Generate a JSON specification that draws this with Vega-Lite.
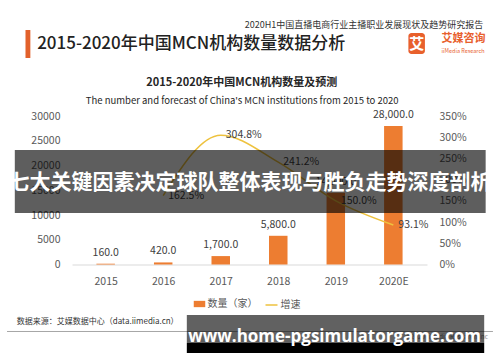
{
  "$schema": "https://vega.github.io/schema/vega-lite/v6.json",
  "width": 355,
  "height": 148.5,
  "autosize": {"type": "none"},
  "padding": {"left": 72, "top": 116, "right": 73, "bottom": 97.5},
  "background": "white",
  "config": {
    "view": {"stroke": null},
    "font": "Noto Sans CJK SC",
    "text": {"font": "Noto Sans CJK SC"}
  },
  "data": {"values": [
    {"year": 2015, "count": 160, "growth": null},
    {"year": 2016, "count": 420, "growth": 1.625},
    {"year": 2017, "count": 1700, "growth": 3.048},
    {"year": 2018, "count": 5800, "growth": 2.412},
    {"year": 2019, "count": 14500, "growth": 1.5},
    {"year": 2020, "count": 28000, "growth": 0.931}
  ]},
  "resolve": {"scale": {"y": "independent"}, "axis": {"x": "independent", "y": "independent"}},
  "layer": [
    {
      "mark": {"type": "bar", "width": 18.5, "color": "#ED7D31"},
      "encoding": {
        "x": {"field": "year", "type": "quantitative",
          "scale": {"domain": [2014.5017, 2020.4983], "nice": false, "zero": false},
          "axis": {"orient": "bottom", "values": [2015, 2016, 2017, 2018, 2019, 2020], "title": null,
            "labelExpr": "datum.value == 2020 ? '2020E' : format(datum.value, 'd')",
            "grid": false, "ticks": false, "domain": true, "domainColor": "#D9D9D9",
            "labelPadding": 12, "labelFontSize": 10.5, "labelColor": "#595959", "labelFlush": false, "labelFont": "Noto Sans CJK SC"}},
        "y": {"field": "count", "type": "quantitative",
          "scale": {"domain": [0, 30000], "nice": false, "zero": false},
          "axis": {"orient": "left", "values": [0, 5000, 10000, 15000, 20000, 25000, 30000], "format": "d", "title": null,
            "grid": false, "ticks": false, "domain": false,
            "labelPadding": 12, "labelFontSize": 10.5, "labelColor": "#595959", "labelFont": "Noto Sans CJK SC"}},
        "color": {"datum": "数量（家）", "type": "nominal", "scale": {"range": ["#ED7D31"]},
          "legend": {"orient": "none", "legendX": 121.5, "legendY": 182, "title": null, "padding": 0,
            "symbolType": "M-1,-0.55H1V0.55H-1Z", "symbolSize": 132, "symbolStrokeWidth": 0,
            "labelFontSize": 10, "labelColor": "#595959", "labelOffset": 2, "labelFont": "Noto Sans CJK SC"}}
      }
    },
    {
      "mark": {"type": "text", "dy": -11, "baseline": "middle", "fontSize": 10.5, "color": "#404040"},
      "encoding": {
        "x": {"field": "year", "type": "quantitative", "scale": {"domain": [2014.5017, 2020.4983], "nice": false, "zero": false}, "axis": null},
        "y": {"field": "count", "type": "quantitative", "scale": {"domain": [0, 30000], "nice": false, "zero": false}, "axis": null},
        "text": {"field": "count", "type": "quantitative", "format": ",.1f"}
      }
    },
    {
      "transform": [{"filter": "datum.growth != null"}],
      "mark": {"type": "line", "interpolate": "monotone", "strokeWidth": 1.5},
      "encoding": {
        "x": {"field": "year", "type": "quantitative", "scale": {"domain": [2014.5017, 2020.4983], "nice": false, "zero": false}, "axis": null},
        "y": {"field": "growth", "type": "quantitative",
          "scale": {"domain": [0, 3.5], "nice": false, "zero": false},
          "axis": {"orient": "right", "values": [0, 0.5, 1, 1.5, 2, 2.5, 3, 3.5], "format": ".0%", "title": null,
            "grid": false, "ticks": false, "domain": false,
            "labelPadding": 12, "labelFontSize": 10.5, "labelColor": "#595959", "labelFont": "Noto Sans CJK SC"}},
        "stroke": {"datum": "增速", "type": "nominal", "scale": {"range": ["#EEC23E"]},
          "legend": {"orient": "none", "legendX": 192.5, "legendY": 182, "title": null, "padding": 0,
            "symbolType": "stroke", "symbolSize": 144, "symbolStrokeWidth": 1.5,
            "labelFontSize": 10, "labelColor": "#595959", "labelOffset": 2, "labelFont": "Noto Sans CJK SC"}}
      }
    },
    {
      "transform": [{"filter": "datum.growth != null"}],
      "mark": {"type": "text", "align": "left", "dx": 5, "baseline": "middle", "fontSize": 10.5, "color": "#404040"},
      "encoding": {
        "x": {"field": "year", "type": "quantitative", "scale": {"domain": [2014.5017, 2020.4983], "nice": false, "zero": false}, "axis": null},
        "y": {"field": "growth", "type": "quantitative", "scale": {"domain": [0, 3.5], "nice": false, "zero": false}, "axis": null},
        "text": {"field": "growth", "type": "quantitative", "format": ".1%"}
      }
    },
    {
      "data": {"values": [{"k": "accent"}]},
      "mark": {"type": "rect", "color": "#E2612B"},
      "encoding": {
        "x": {"datum": 2013.6064, "type": "quantitative", "scale": {"domain": [2014.5017, 2020.4983], "nice": false, "zero": false}, "axis": null},
        "x2": {"datum": 2013.6909},
        "y": {"datum": 47374, "type": "quantitative", "scale": {"domain": [0, 30000], "nice": false, "zero": false}, "axis": null},
        "y2": {"datum": 41717}
      }
    },
    {
      "data": {"values": [{"t": "2015-2020年中国MCN机构数量数据分析"}]},
      "mark": {"type": "text", "align": "left", "baseline": "middle", "fontSize": 17, "fontWeight": 500, "color": "#222222"},
      "encoding": {
        "x": {"datum": 2013.8091, "type": "quantitative", "scale": {"domain": [2014.5017, 2020.4983], "nice": false, "zero": false}, "axis": null},
        "y": {"datum": 44545, "type": "quantitative", "scale": {"domain": [0, 30000], "nice": false, "zero": false}, "axis": null},
        "text": {"field": "t"}
      }
    },
    {
      "data": {"values": [{"t": "2020H1中国直播电商行业主播职业发展现状及趋势研究报告"}]},
      "mark": {"type": "text", "align": "right", "baseline": "middle", "fontSize": 9, "color": "#333333"},
      "encoding": {
        "x": {"datum": 2021.5628, "type": "quantitative", "scale": {"domain": [2014.5017, 2020.4983], "nice": false, "zero": false}, "axis": null},
        "y": {"datum": 48384, "type": "quantitative", "scale": {"domain": [0, 30000], "nice": false, "zero": false}, "axis": null},
        "text": {"field": "t"}
      }
    },
    {
      "data": {"values": [{"k": "logo"}]},
      "mark": {"type": "rect", "color": "#E8602C", "cornerRadius": 3},
      "encoding": {
        "x": {"datum": 2020.2618, "type": "quantitative", "scale": {"domain": [2014.5017, 2020.4983], "nice": false, "zero": false}, "axis": null},
        "x2": {"datum": 2020.549},
        "y": {"datum": 46768, "type": "quantitative", "scale": {"domain": [0, 30000], "nice": false, "zero": false}, "axis": null},
        "y2": {"datum": 42525}
      }
    },
    {
      "data": {"values": [{"t": "艾"}]},
      "mark": {"type": "text", "align": "center", "baseline": "middle", "fontSize": 15, "fontWeight": "bold", "color": "white"},
      "encoding": {
        "x": {"datum": 2020.4054, "type": "quantitative", "scale": {"domain": [2014.5017, 2020.4983], "nice": false, "zero": false}, "axis": null},
        "y": {"datum": 44646, "type": "quantitative", "scale": {"domain": [0, 30000], "nice": false, "zero": false}, "axis": null},
        "text": {"field": "t"}
      }
    },
    {
      "data": {"values": [{"t": "艾媒咨询"}]},
      "mark": {"type": "text", "align": "left", "baseline": "middle", "fontSize": 11, "fontWeight": "bold", "color": "#E8602C"},
      "encoding": {
        "x": {"datum": 2020.8361, "type": "quantitative", "scale": {"domain": [2014.5017, 2020.4983], "nice": false, "zero": false}, "axis": null},
        "y": {"datum": 45556, "type": "quantitative", "scale": {"domain": [0, 30000], "nice": false, "zero": false}, "axis": null},
        "text": {"field": "t"}
      }
    },
    {
      "data": {"values": [{"t": "iiMedia Research"}]},
      "mark": {"type": "text", "align": "left", "baseline": "middle", "fontSize": 5.5, "color": "#E8602C"},
      "encoding": {
        "x": {"datum": 2020.8361, "type": "quantitative", "scale": {"domain": [2014.5017, 2020.4983], "nice": false, "zero": false}, "axis": null},
        "y": {"datum": 43232, "type": "quantitative", "scale": {"domain": [0, 30000], "nice": false, "zero": false}, "axis": null},
        "text": {"field": "t"}
      }
    },
    {
      "data": {"values": [{"t": "2015-2020年中国MCN机构数量及预测"}]},
      "mark": {"type": "text", "align": "center", "baseline": "middle", "fontSize": 11, "fontWeight": "bold", "color": "#262626"},
      "encoding": {
        "x": {"datum": 2017.3649, "type": "quantitative", "scale": {"domain": [2014.5017, 2020.4983], "nice": false, "zero": false}, "axis": null},
        "y": {"datum": 36667, "type": "quantitative", "scale": {"domain": [0, 30000], "nice": false, "zero": false}, "axis": null},
        "text": {"field": "t"}
      }
    },
    {
      "data": {"values": [{"t": "The number and forecast of China's MCN institutions from 2015 to 2020"}]},
      "mark": {"type": "text", "align": "center", "baseline": "middle", "fontSize": 9.5, "color": "#262626"},
      "encoding": {
        "x": {"datum": 2017.3733, "type": "quantitative", "scale": {"domain": [2014.5017, 2020.4983], "nice": false, "zero": false}, "axis": null},
        "y": {"datum": 33030, "type": "quantitative", "scale": {"domain": [0, 30000], "nice": false, "zero": false}, "axis": null},
        "text": {"field": "t"}
      }
    },
    {
      "data": {"values": [{"t": "数据来源：艾媒数据中心（data.iimedia.cn）"}]},
      "mark": {"type": "text", "align": "left", "baseline": "middle", "fontSize": 8, "color": "#333333"},
      "encoding": {
        "x": {"datum": 2013.4544, "type": "quantitative", "scale": {"domain": [2014.5017, 2020.4983], "nice": false, "zero": false}, "axis": null},
        "y": {"datum": -11556, "type": "quantitative", "scale": {"domain": [0, 30000], "nice": false, "zero": false}, "axis": null},
        "text": {"field": "t"}
      }
    },
    {
      "data": {"values": [{"k": "footer line"}]},
      "mark": {"type": "rule", "color": "#A6A6A6", "strokeWidth": 1},
      "encoding": {
        "x": {"datum": 2013.2855, "type": "quantitative", "scale": {"domain": [2014.5017, 2020.4983], "nice": false, "zero": false}, "axis": null},
        "x2": {"datum": 2021.7314},
        "y": {"datum": -13535, "type": "quantitative", "scale": {"domain": [0, 30000], "nice": false, "zero": false}, "axis": null}
      }
    },
    {
      "data": {"values": [{"t": "©2020 iiMedia Research Inc"}]},
      "mark": {"type": "text", "align": "right", "baseline": "middle", "fontSize": 6.5, "color": "#8C8C8C"},
      "encoding": {
        "x": {"datum": 2021.647, "type": "quantitative", "scale": {"domain": [2014.5017, 2020.4983], "nice": false, "zero": false}, "axis": null},
        "y": {"datum": -14646, "type": "quantitative", "scale": {"domain": [0, 30000], "nice": false, "zero": false}, "axis": null},
        "text": {"field": "t"}
      }
    },
    {
      "data": {"values": [{"k": "banner"}]},
      "mark": {"type": "rect", "color": "#000000", "opacity": 0.63},
      "encoding": {
        "x": {"datum": 2013.4206, "type": "quantitative", "scale": {"domain": [2014.5017, 2020.4983], "nice": false, "zero": false}, "axis": null},
        "x2": {"datum": 2021.6047},
        "y": {"datum": 23131, "type": "quantitative", "scale": {"domain": [0, 30000], "nice": false, "zero": false}, "axis": null},
        "y2": {"datum": 10404}
      }
    },
    {
      "data": {"values": [{"t": "七大关键因素决定球队整体表现与胜负走势深度剖析"}]},
      "mark": {"type": "text", "align": "center", "baseline": "middle", "fontSize": 21, "fontWeight": "bold", "color": "white"},
      "encoding": {
        "x": {"datum": 2017.5084, "type": "quantitative", "scale": {"domain": [2014.5017, 2020.4983], "nice": false, "zero": false}, "axis": null},
        "y": {"datum": 16404, "type": "quantitative", "scale": {"domain": [0, 30000], "nice": false, "zero": false}, "axis": null},
        "text": {"field": "t"}
      }
    },
    {
      "data": {"values": [{"k": "watermark box"}]},
      "mark": {"type": "rect", "color": "#000000", "opacity": 0.62},
      "encoding": {
        "x": {"datum": 2016.4105, "type": "quantitative", "scale": {"domain": [2014.5017, 2020.4983], "nice": false, "zero": false}, "axis": null},
        "x2": {"datum": 2021.5794},
        "y": {"datum": -10202, "type": "quantitative", "scale": {"domain": [0, 30000], "nice": false, "zero": false}, "axis": null},
        "y2": {"datum": -15859}
      }
    },
    {
      "data": {"values": [{"k": "watermark strip"}]},
      "mark": {"type": "rect", "color": "#000000"},
      "encoding": {
        "x": {"datum": 2016.4105, "type": "quantitative", "scale": {"domain": [2014.5017, 2020.4983], "nice": false, "zero": false}, "axis": null},
        "x2": {"datum": 2021.5794},
        "y": {"datum": -15859, "type": "quantitative", "scale": {"domain": [0, 30000], "nice": false, "zero": false}, "axis": null},
        "y2": {"datum": -17879}
      }
    },
    {
      "data": {"values": [{"t": "www.home-pgsimulatorgame.com"}]},
      "mark": {"type": "text", "align": "center", "baseline": "middle", "fontSize": 17, "fontWeight": "bold", "color": "white", "font": "Open Sans"},
      "encoding": {
        "x": {"datum": 2018.978, "type": "quantitative", "scale": {"domain": [2014.5017, 2020.4983], "nice": false, "zero": false}, "axis": null},
        "y": {"datum": -14586, "type": "quantitative", "scale": {"domain": [0, 30000], "nice": false, "zero": false}, "axis": null},
        "text": {"field": "t"}
      }
    }
  ]
}
